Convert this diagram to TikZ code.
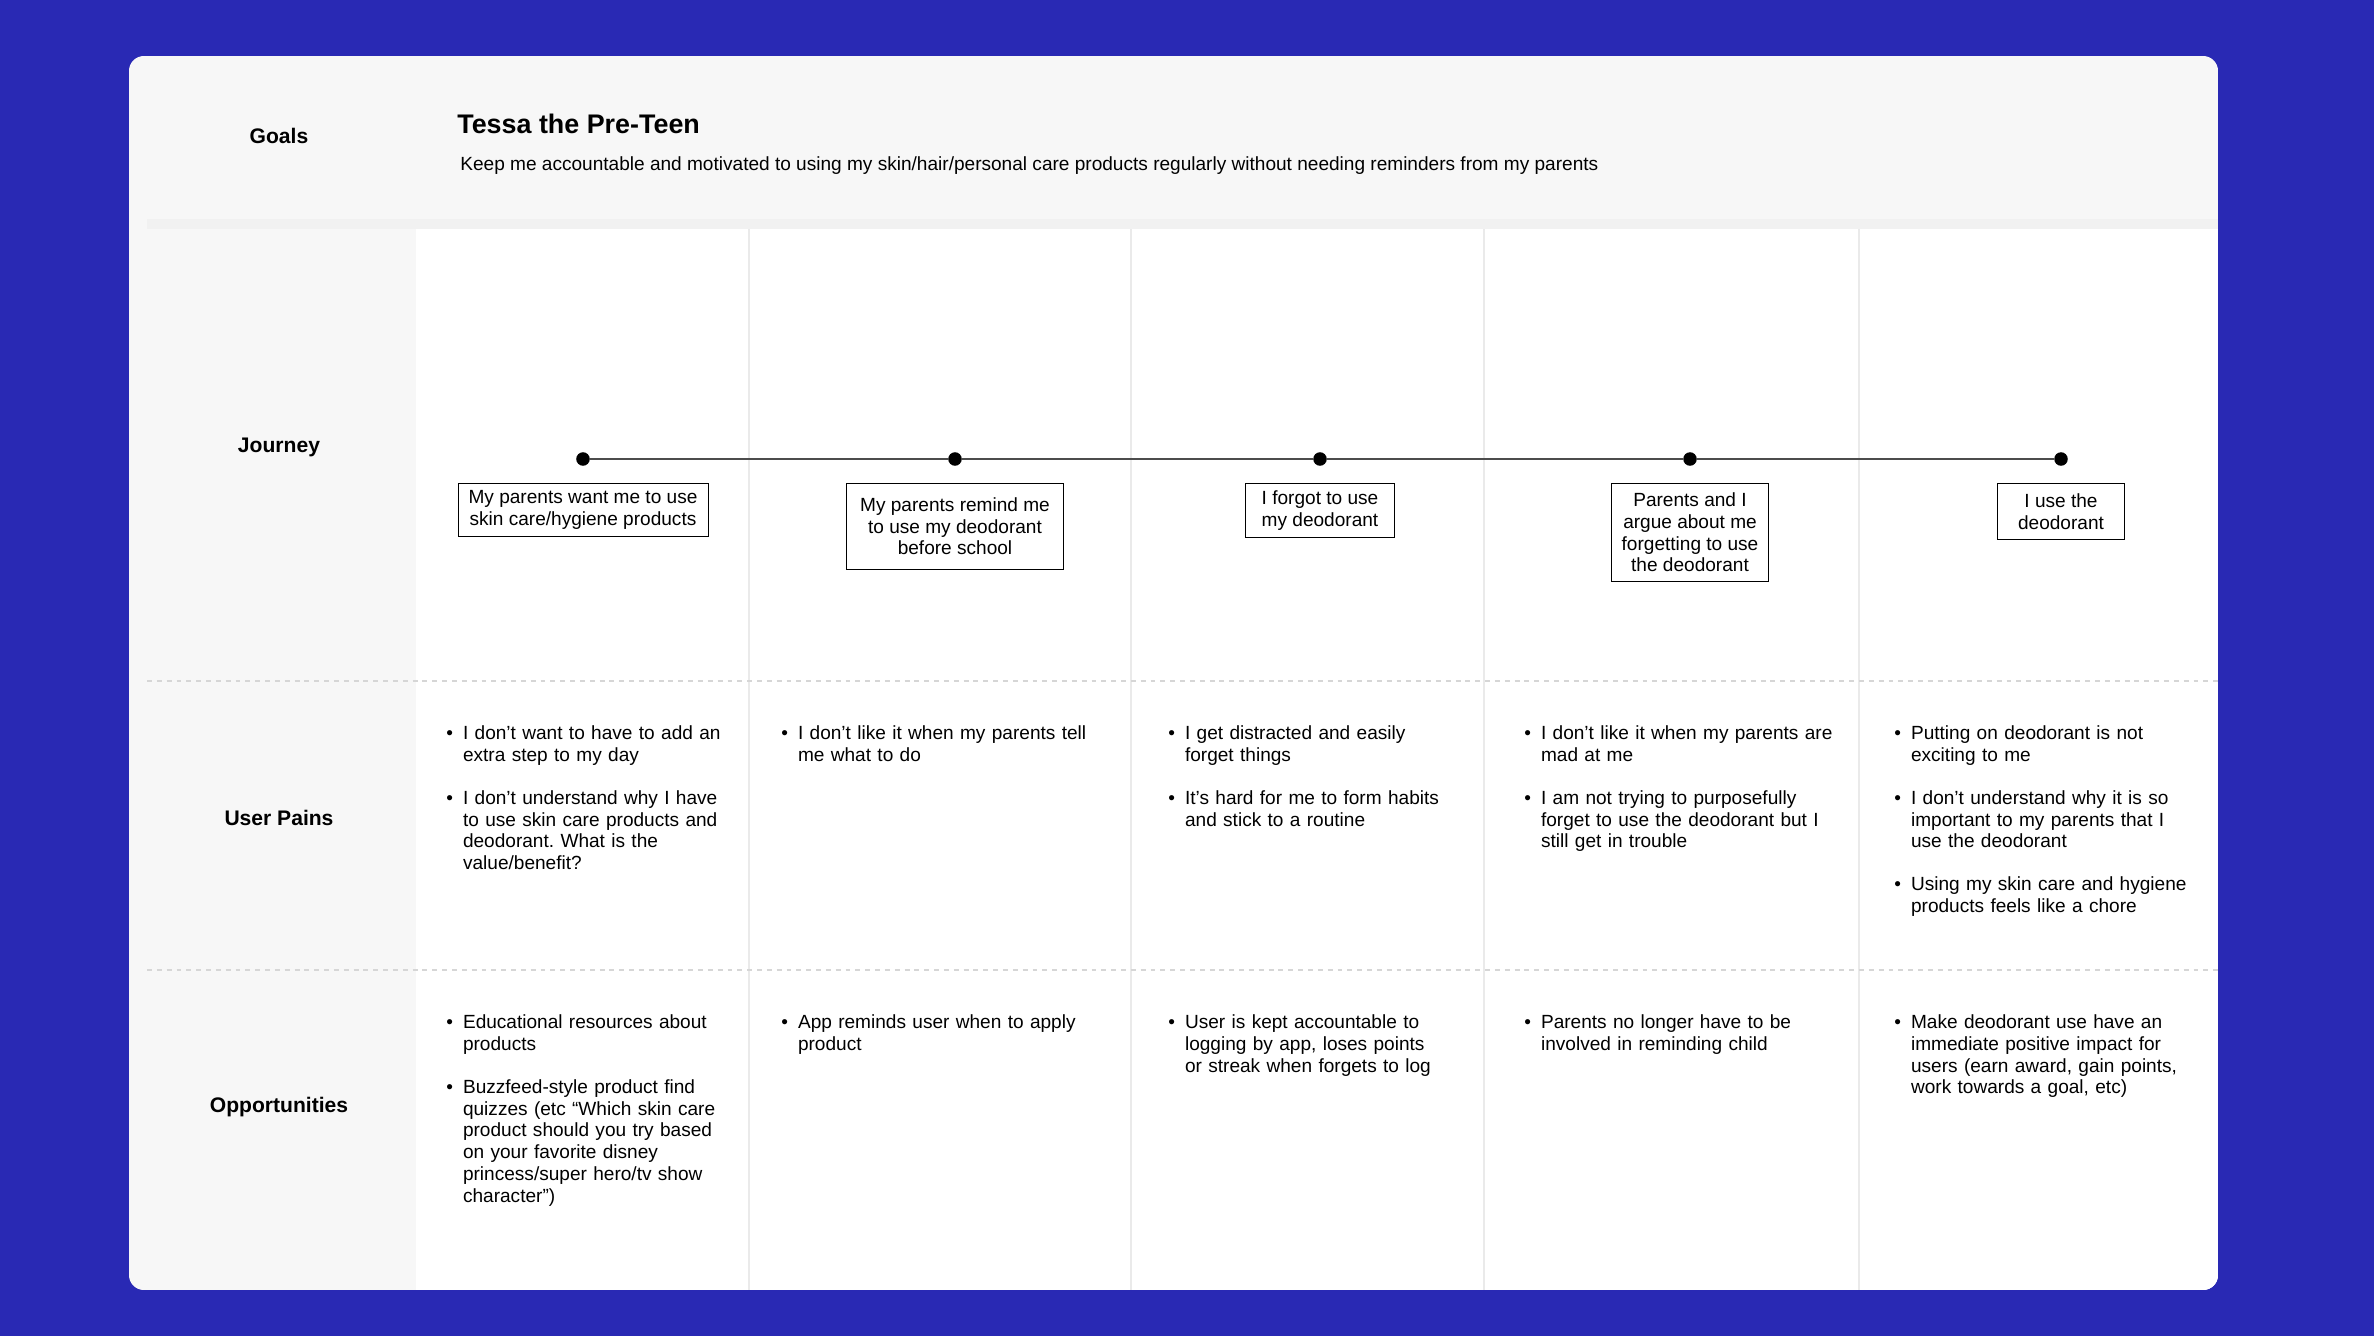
\documentclass[tikz,border=0pt]{standalone}
\usepackage{fontspec}
\setmainfont{Liberation Sans}
\usetikzlibrary{positioning}
\frenchspacing

\definecolor{bgblue}{RGB}{41,41,180}
\definecolor{panelgray}{RGB}{247,247,247}
\definecolor{stripgray}{RGB}{241,241,241}
\definecolor{rulegray}{RGB}{234,234,234}
\definecolor{dashgray}{RGB}{214,214,214}

\newcommand{\bodyfont}{\fontsize{10.85}{12.4}\selectfont}
\newcommand{\bul}[1]{\noindent\makebox[9.5pt][l]{\textbullet}\parbox[t]{190pt}{\strut#1\strut}\par\prevdepth=\dp\strutbox}
\newcommand{\gap}{\vspace{12pt}}

\tikzset{
  rowlabel/.style={font=\bfseries\fontsize{12}{14}\selectfont},
  stepbox/.style={draw, line width=0.5pt, fill=white, align=center, font=\bodyfont, inner xsep=6pt, inner ysep=4pt},
  dot/.style={circle, fill=black, inner sep=0pt, minimum size=7.7pt},
  cell/.style={anchor=north west, inner sep=0pt, text width=210pt, font=\bodyfont}
}

\begin{document}
\begin{tikzpicture}[x=0.02cm, y=-0.02cm]
    \useasboundingbox (0,0) rectangle (2374,1336);
    \fill[bgblue] (0,0) rectangle (2374,1336);
    % card
    \begin{scope}
        \clip[rounded corners=8.5pt] (129,56) rectangle (2218,1290);
        \fill[panelgray] (129,56) rectangle (2218,1290);
        \fill[stripgray] (147,219) rectangle (2218,229);
        \fill[white] (416,229) rectangle (2218,1290);
    \end{scope}
    \foreach \x in {749,1131,1484,1859}
        \draw[rulegray, line width=0.8pt] (\x,229) -- (\x,1290);
    \foreach \y in {681,970}
        \draw[dashgray, line width=1.3pt, dash pattern=on 2.8pt off 2.8pt] (147,\y) -- (2218,\y);

    % row labels
    \node[rowlabel] (goals) at (279,136) {Goals};
    \node[rowlabel] (journey) at (279,447) {Journey};
    \node[rowlabel] (pains) at (279,818) {User Pains};
    \node[rowlabel] (opps) at (279,1107) {Opportunities};

    \node[anchor=west, inner sep=0pt, font=\bfseries\fontsize{15.3}{18}\selectfont] (persona) at (457,124) {Tessa the Pre-Teen};
    \node[anchor=west, inner sep=0pt, font=\bodyfont] (goal) at (460,166) {Keep me accountable and motivated to using my skin/hair/personal care products regularly without needing reminders from my parents};

    % journey
    \node[dot] (d1) at (583,459) {};
    \node[dot] (d2) at (955,459) {};
    \node[dot] (d3) at (1320,459) {};
    \node[dot] (d4) at (1690,459) {};
    \node[dot] (d5) at (2061,459) {};
    \draw[black!70, line width=0.6pt] (d1) -- (d2) -- (d3) -- (d4) -- (d5);

    \node[stepbox, below=9.5pt of d1] (s1) {My parents want me to use\\skin care/hygiene products};
    \node[stepbox, below=9.5pt of d2, minimum width=123.6pt, minimum height=49pt] (s2) {My parents remind me\\to use my deodorant\\before school};
    \node[stepbox, below=9.5pt of d3, minimum width=85pt, minimum height=31pt] (s3) {I forgot to use\\my deodorant};
    \node[stepbox, below=9.5pt of d4, minimum height=56pt] (s4) {Parents and I\\argue about me\\forgetting to use\\the deodorant};
    \node[stepbox, below=9.5pt of d5, minimum width=72pt, minimum height=32pt] (s5) {I use the\\deodorant};

    % user pains
    \node[cell] (p1) at (446,724) {\bul{I don’t want to have to add an\\extra step to my day}\gap
        \bul{I don’t understand why I have\\to use skin care products and\\deodorant. What is the\\value/benefit?}};
    \node[cell] (p2) at (781,724) {\bul{I don’t like it when my parents tell\\me what to do}};
    \node[cell] (p3) at (1168,724) {\bul{I get distracted and easily\\forget things}\gap
        \bul{It’s hard for me to form habits\\and stick to a routine}};
    \node[cell] (p4) at (1524,724) {\bul{I don’t like it when my parents are\\mad at me}\gap
        \bul{I am not trying to purposefully\\forget to use the deodorant but I\\still get in trouble}};
    \node[cell] (p5) at (1894,724) {\bul{Putting on deodorant is not\\exciting to me}\gap
        \bul{I don’t understand why it is so\\important to my parents that I\\use the deodorant}\gap
        \bul{Using my skin care and hygiene\\products feels like a chore}};

    % opportunities
    \node[cell] (o1) at (446,1013) {\bul{Educational resources about\\products}\gap
        \bul{Buzzfeed-style product find\\quizzes (etc “Which skin care\\product should you try based\\on your favorite disney\\princess/super hero/tv show\\character”)}};
    \node[cell] (o2) at (781,1013) {\bul{App reminds user when to apply\\product}};
    \node[cell] (o3) at (1168,1013) {\bul{User is kept accountable to\\logging by app, loses points\\or streak when forgets to log}};
    \node[cell] (o4) at (1524,1013) {\bul{Parents no longer have to be\\involved in reminding child}};
    \node[cell] (o5) at (1894,1013) {\bul{Make deodorant use have an\\immediate positive impact for\\users (earn award, gain points,\\work towards a goal, etc)}};
\end{tikzpicture}
\end{document}
